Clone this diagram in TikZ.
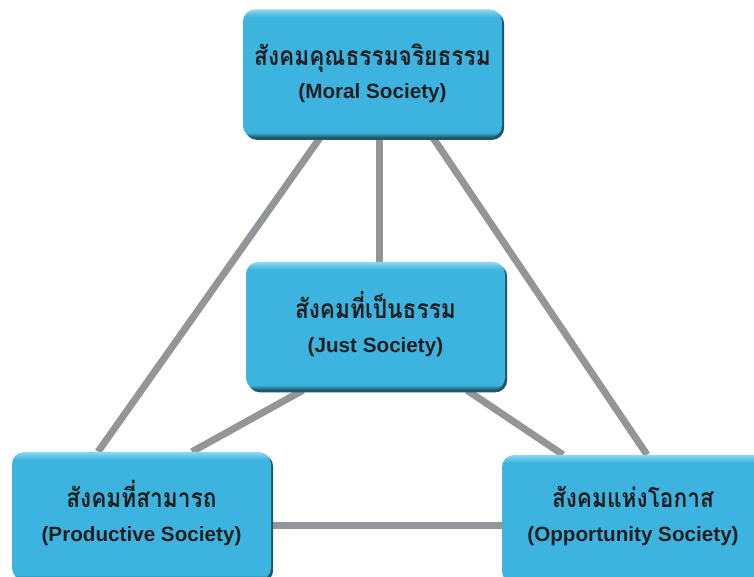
\documentclass[tikz,border=0pt]{standalone}
\usepackage{fontspec}
\setmainfont{Liberation Sans}
\newfontfamily\thaifont[Script=Thai,FakeStretch=0.86]{Loma}
\usetikzlibrary{calc,backgrounds,shadows}
\definecolor{boxblue}{HTML}{3CB4DF}
\definecolor{boxlight}{HTML}{8FD6F0}
\definecolor{boxdark}{HTML}{1F5669}
\definecolor{linegray}{HTML}{939598}
\definecolor{txt}{HTML}{231F20}
\pgfdeclareverticalshading{boxshade}{100bp}{color(0bp)=(boxdark); color(25bp)=(boxdark); color(27bp)=(boxblue); color(72bp)=(boxblue); color(75bp)=(boxlight); color(100bp)=(boxlight)}
\tikzset{
  socbox/.style={rounded corners=9pt, minimum width={259*0.75pt}, minimum height={128*0.75pt},
    inner sep=0pt, shading=boxshade,
    drop shadow={shadow xshift=1.6pt, shadow yshift=-1.8pt, fill=boxdark, opacity=1}},
  soclbl/.style={align=center, text=txt, font=\fontsize{15.5}{25}\selectfont\bfseries},
  conn/.style={draw=linegray, line width=5.25pt}
}
\newcommand{\thai}[1]{{\thaifont\fontsize{19.8}{25}\selectfont\bfseries #1}}
\begin{document}
\begin{tikzpicture}[x=0.75pt,y=-0.75pt]
\useasboundingbox (0,0) rectangle (754,577);
\node[socbox] (moral) at (372.5,73.5) {};
\node[socbox] (just) at (375.5,326) {};
\node[socbox] (prod) at (141.5,516) {};
\node[socbox, minimum width={264*0.75pt}] (opp) at (634,519) {};
\node[soclbl] (moraltxt) at (372.5,73) {\thai{สังคมคุณธรรมจริยธรรม}\\(Moral Society)};
\node[soclbl] (justtxt) at (375.5,324) {\thai{สังคมที่เป็นธรรม}\\(Just Society)};
\node[soclbl] (prodtxt) at (141.5,513) {\thai{สังคมที่สามารถ}\\(Productive Society)};
\node[soclbl] (opptxt) at (633,516) {\thai{สังคมแห่งโอกาส}\\(Opportunity Society)};
\begin{pgfonlayer}{background}
\draw[conn] ($(moral.south)+(-52.5,0)$) -- ($(prod.north)+(-43.5,0)$);
\draw[conn] ($(moral.south)+(60.5,0)$) -- ($(opp.north)+(13,0)$);
\draw[conn] ($(moral.south)+(6.5,0)$) -- ($(just.north)+(3.5,0)$);
\draw[conn] ($(just.south)+(-72.5,0)$) -- ($(prod.north)+(50.5,0)$);
\draw[conn] ($(just.south)+(91.5,0)$) -- ($(opp.north)+(-71,0)$);
\draw[conn] ($(prod.east)+(0,9)$) -- ($(opp.west)+(0,6)$);
\end{pgfonlayer}
\end{tikzpicture}
\end{document}
